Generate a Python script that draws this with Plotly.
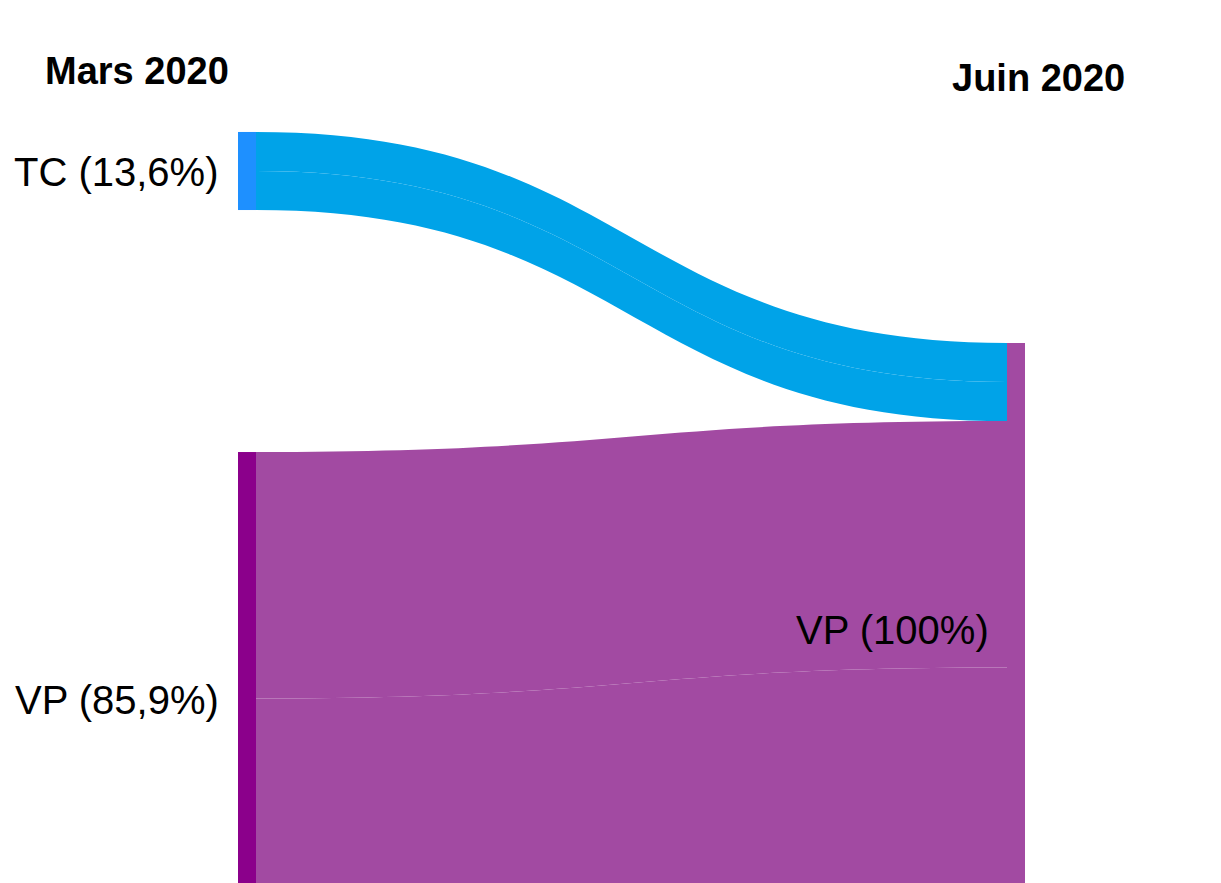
import plotly.graph_objects as go

# Nodes: modal share in March 2020 (left) and June 2020 (right)
node_names = ["TC", "VP", "VP"]
node_labels_left = ["TC (13,6%)", "VP (85,9%)"]
node_label_right = "VP (100%)"
node_colors = ["#1E90FF", "#8B008B", "#A24AA2"]

# Flows, each split into two equal strands
link_source = [0, 0, 1, 1]
link_target = [2, 2, 2, 2]
link_values = [6.8, 6.8, 42.95, 42.95]
link_colors = ["#00A3E8", "#00A3E8", "#A24AA2", "#A24AA2"]

period_titles = ["Mars 2020", "Juin 2020"]

W, H = 1221, 1000
FONT = "Liberation Sans, Arial, sans-serif"

# plot area of the diagram, in pixels
X0, X1 = 238, 1025
Y0, Y1 = 132, 945
THICK = 18
PAD = 242


def fx(px):
    return (px - X0) / (X1 - X0)


def fy(py):
    return (py - Y0) / (Y1 - Y0)


# node centres
node_x = [fx(X0 + THICK / 2), fx(X0 + THICK / 2), fx(X1 - THICK / 2)]
node_y = [fy(171), fy(698.5), fy(628.5)]

fig = go.Figure(go.Sankey(
    arrangement="fixed",
    domain=dict(x=[X0 / W, X1 / W], y=[1 - Y1 / H, 1 - Y0 / H]),
    node=dict(
        label=["", "", ""],
        color=node_colors,
        thickness=THICK,
        pad=PAD,
        x=node_x,
        y=node_y,
        line=dict(color="white", width=0),
    ),
    link=dict(source=link_source, target=link_target, value=link_values,
              color=link_colors),
    textfont=dict(family=FONT, size=40, color="black"),
    hoverinfo="none",
))

annotations = [
    dict(text=f"<b>{period_titles[0]}</b>", x=137 / W, y=1 - 71 / H,
         xanchor="center", yanchor="middle", font=dict(size=38)),
    dict(text=f"<b>{period_titles[1]}</b>", x=1038 / W, y=1 - 78 / H,
         xanchor="center", yanchor="middle", font=dict(size=38)),
    dict(text=node_labels_left[0], x=221 / W, y=1 - 172 / H,
         xanchor="right", yanchor="middle", font=dict(size=40)),
    dict(text=node_labels_left[1], x=221 / W, y=1 - 700 / H,
         xanchor="right", yanchor="middle", font=dict(size=40)),
    dict(text=node_label_right, x=991 / W, y=1 - 630 / H,
         xanchor="right", yanchor="middle", font=dict(size=40)),
]
for a in annotations:
    a.update(xref="paper", yref="paper", showarrow=False)
    a["font"].update(family=FONT, color="black")

fig.update_layout(
    width=W, height=H,
    margin=dict(l=0, r=0, t=0, b=0),
    paper_bgcolor="white",
    plot_bgcolor="white",
    annotations=annotations,
)

fig.write_html("out.html")
